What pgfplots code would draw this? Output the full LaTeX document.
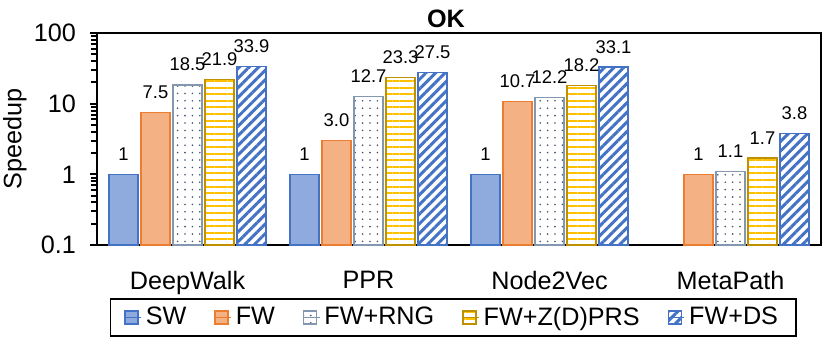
\documentclass[border=0pt]{standalone}
\usepackage{pgfplots}
\pgfplotsset{compat=1.18}
\usepackage{fontspec}
\setmainfont{Liberation Sans}
\usetikzlibrary{patterns.meta}
\definecolor{swfill}{HTML}{8FAADC}
\definecolor{swline}{HTML}{4472C4}
\definecolor{fwfill}{HTML}{F4B183}
\definecolor{fwline}{HTML}{ED7D31}
\definecolor{rngline}{HTML}{8497B0}
\definecolor{rngdot}{HTML}{44546A}
\definecolor{zline}{HTML}{BF9000}
\definecolor{zfill}{HTML}{FFC000}
\definecolor{dsline}{HTML}{4472C4}
\begin{document}
\begin{tikzpicture}
\useasboundingbox (-48.5pt,-50pt) rectangle (366.5pt,122.5pt);
\begin{axis}[
  at={(0,0)}, anchor=south west,
  scale only axis, width=362pt, height=106pt,
  ybar=1.5pt, bar width=14.5pt,
  ymode=log, log origin y=infty, ymin=0.1, ymax=100,
  ytick={0.1,1,10,100}, yticklabels={0.1,1,10,100},
  minor tick style={draw=none},
  xmin=-0.5, xmax=3.5, xtick={0,1,2,3},
  xticklabels={DeepWalk,PPR,Node2Vec,MetaPath},
  x tick style={draw=none},
  ytick pos=left,
  tick align=outside, major tick length=3.5pt,
  y tick style={draw=black, line width=1pt},
  axis line style={line width=1pt},
  /pgf/number format/assume math mode=true,
  tick label style={font=\fontsize{12.6}{14}\selectfont},
  xticklabel style={yshift=-6pt},
  yticklabel style={xshift=-3.5pt},
  ylabel={Speedup},
  ylabel style={font=\fontsize{12.6}{14}\selectfont, at={(axis description cs:-0.1133,0.5)}, anchor=center},
  title={\textbf{OK}},
  title style={at={(0.482,1)}, anchor=south, inner sep=0pt, yshift=-3.5pt, font=\fontsize{12.6}{14}\selectfont},
  nodes near coords, point meta=explicit symbolic,
  every node near coord/.append style={font=\fontsize{9.2}{10}\selectfont, inner sep=1pt, yshift=5.5pt, text=black},
  legend columns=5,
  legend style={at={(0.492,0)}, anchor=north, yshift=-26.5pt, draw=black, line width=0.8pt,
    font=\fontsize{12.6}{14}\selectfont, inner xsep=7pt, inner ysep=2pt,
    /tikz/every even column/.append style={column sep=12pt}},
  legend image code/.code={\draw[#1, line width=0.6pt] (0pt,-3.25pt) rectangle (6.5pt,3.25pt); \path (0pt,0pt) -- (8pt,0pt);},
]
\addplot[draw=swline, fill=swfill, line width=0.7pt] coordinates {(0,1)[1] (1,1)[1] (2,1)[1]};
\addplot[draw=fwline, fill=fwfill, line width=0.7pt] coordinates {(0,7.5)[7.5] (1,3.0)[3.0] (2,10.7)[10.7] (3,1)[1]};
\addplot[draw=rngline, line width=0.7pt, pattern={Dots[radius=0.45pt,distance=3.7pt]}, pattern color=rngdot] coordinates {(0,18.5)[18.5] (1,12.7)[12.7] (2,12.2)[12.2] (3,1.1)[1.1]};
\addplot[draw=zline, line width=0.7pt, pattern={Lines[angle=0,distance=3.3pt,line width=1pt]}, pattern color=zfill] coordinates {(0,21.9)[21.9] (1,23.3)[23.3] (2,18.2)[18.2] (3,1.7)[1.7]};
\addplot[draw=dsline, line width=0.7pt, pattern={Lines[angle=45,distance=3.4pt,line width=1.5pt]}, pattern color=dsline] coordinates {(0,33.9)[33.9] (1,27.5)[27.5] (2,33.1)[33.1] (3,3.8)[3.8]};
\legend{SW,FW,FW+RNG,FW+Z(D)PRS,FW+DS}
\end{axis}
\end{tikzpicture}
\end{document}
